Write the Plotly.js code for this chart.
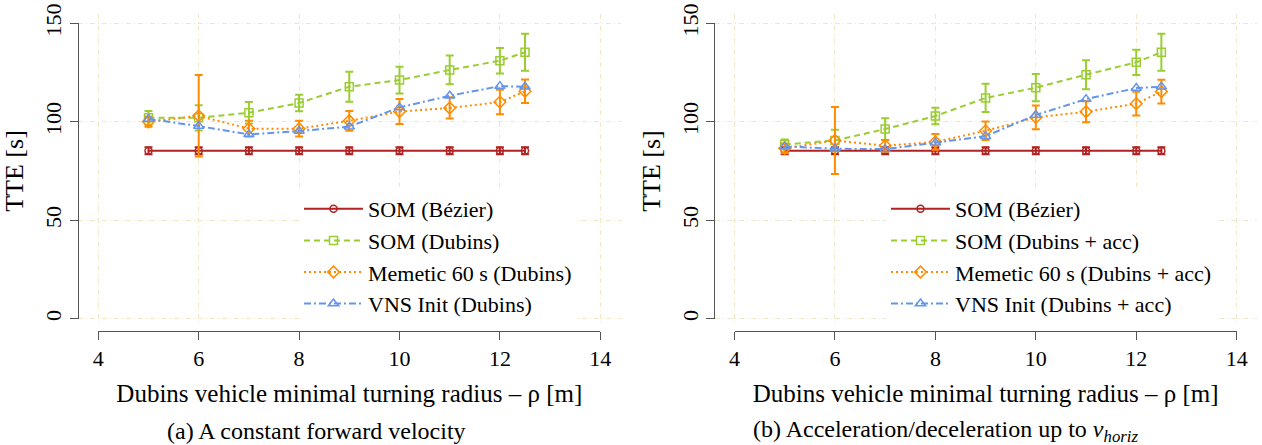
<!DOCTYPE html>
<html><head><meta charset="utf-8">
<script src="https://cdn.plot.ly/plotly-3.0.1.min.js"></script>
<style>html,body{margin:0;padding:0;background:#fff}#chart{width:1262px;height:445px}</style>
</head><body><div id="chart"></div>
<script>
// ---------- data ----------
const rho = [5, 6, 7, 8, 9, 10, 11, 12, 12.5];
const xTickVals = [4, 6, 8, 10, 12, 14];
const yTickVals = [0, 50, 100, 150];

// panel (a): constant forward velocity
const a_bezier      = [85.3, 85.3, 85.3, 85.3, 85.3, 85.3, 85.3, 85.3, 85.3];
const a_bezierErr   = [1.8, 1.8, 1.8, 1.8, 1.8, 1.8, 1.8, 1.8, 1.8];
const a_somDubins   = [102, 102, 104.6, 109.5, 117.8, 121.2, 126.3, 131, 135.3];
const a_somErr      = [3.5, 6.4, 5.5, 4.2, 7.6, 6.8, 7.3, 6.5, 9.4];
const a_memetic     = [100, 103, 96.5, 96.5, 100.5, 105.2, 107, 110, 115.5];
const a_memeticErr  = [2.5, 20.7, 4, 4, 5, 6.3, 5.4, 6.2, 6];
const a_vns         = [101.4, 97.8, 93.6, 95.3, 97.5, 107.3, 113.2, 118.1, 117.8];

// panel (b): acceleration / deceleration
const b_bezier      = [85.3, 85.3, 85.3, 85.3, 85.3, 85.3, 85.3, 85.3, 85.3];
const b_bezierErr   = [1.8, 1.8, 1.8, 1.8, 1.8, 1.8, 1.8, 1.8, 1.8];
const b_somDubins   = [88.5, 90.5, 96.3, 102.9, 112.1, 117.3, 123.9, 130.2, 135.3];
const b_somErr      = [2.5, 5.5, 5.5, 4.2, 7.2, 6.9, 7.4, 6.4, 9.4];
const b_memetic     = [86.5, 90.5, 87.8, 89.8, 95.4, 102.2, 105.1, 109.2, 115.3];
const b_memeticErr  = [2.5, 17, 3, 4, 4.7, 6, 5.3, 6, 6];
const b_vns         = [87.5, 86.3, 86.1, 89.3, 92.7, 103.4, 111.5, 117.1, 117.8];

const namesA = ['SOM (Bézier)', 'SOM (Dubins)', 'Memetic 60 s (Dubins)', 'VNS Init (Dubins)'];
const namesB = ['SOM (Bézier)', 'SOM (Dubins + acc)', 'Memetic 60 s (Dubins + acc)', 'VNS Init (Dubins + acc)'];
const xTitle = 'Dubins vehicle minimal turning radius – ρ [m]';
const yTitle = 'TTE [s]';
const captionA = '(a) A constant forward velocity';
const captionB = '(b) Acceleration/deceleration up to <i>v</i><sub><i>horiz</i></sub>';

// ---------- styling ----------
const W = 1262, H = 445;
const FONT = 'Liberation Serif, Times New Roman, serif';
const C_RED = '#b22222', C_GREEN = '#9acd32', C_ORANGE = '#ff8c00', C_BLUE = '#6495ed';
const GRID = '#efe7c9';
const AXC = '#555555';
const px = v => v / W;
const py = v => 1 - v / H;

function makeTraces(xa, ya, leg, names, bez, bezErr, som, somErr, mem, memErr, vns) {
  const base = {x: rho, xaxis: xa, yaxis: ya, legend: leg, mode: 'lines+markers', type: 'scatter', hoverinfo: 'skip'};
  return [
    Object.assign({}, base, {y: bez, name: names[0],
      line: {color: C_RED, width: 2, dash: 'solid'},
      marker: {symbol: 'circle-open', size: 7, color: C_RED, line: {width: 1.5, color: C_RED}},
      error_y: {type: 'data', array: bezErr, visible: true, color: C_RED, thickness: 2, width: 4}}),
    Object.assign({}, base, {y: som, name: names[1],
      line: {color: C_GREEN, width: 2, dash: '6px,4px'},
      marker: {symbol: 'square-open', size: 8, color: C_GREEN, line: {width: 1.5, color: C_GREEN}},
      error_y: {type: 'data', array: somErr, visible: true, color: C_GREEN, thickness: 2, width: 4}}),
    Object.assign({}, base, {y: mem, name: names[2],
      line: {color: C_ORANGE, width: 2, dash: '2px,3px'},
      marker: {symbol: 'diamond-open', size: 9, color: C_ORANGE, line: {width: 1.5, color: C_ORANGE}},
      error_y: {type: 'data', array: memErr, visible: true, color: C_ORANGE, thickness: 2, width: 4}}),
    Object.assign({}, base, {y: vns, name: names[3],
      line: {color: C_BLUE, width: 2, dash: '7px,3px,2px,3px'},
      marker: {symbol: 'triangle-up-open', size: 9, color: C_BLUE, line: {width: 1.5, color: C_BLUE}}})
  ];
}

const data = [].concat(
  makeTraces('x', 'y', 'legend', namesA, a_bezier, a_bezierErr, a_somDubins, a_somErr, a_memetic, a_memeticErr, a_vns),
  makeTraces('x3', 'y3', 'legend2', namesB, b_bezier, b_bezierErr, b_somDubins, b_somErr, b_memetic, b_memeticErr, b_vns),
  [{x: [], y: [], xaxis: 'x2', yaxis: 'y2', showlegend: false, hoverinfo: 'skip', type: 'scatter'},
   {x: [], y: [], xaxis: 'x4', yaxis: 'y4', showlegend: false, hoverinfo: 'skip', type: 'scatter'}]
);

// pixel geometry of the two panels
const panels = [
  {plotL: 78, plotR: 620.7, x4: 98.3, x14: 600.3, axisX: 77.7},
  {plotL: 715, plotR: 1257, x4: 734.5, x14: 1236.7, axisX: 714.3}
];
const plotTop = 14, plotBot = 325, y0px = 318.7, y150px = 23.3, xAxisY = 331;

function gridX(p, anchor) {
  const k = (p.x14 - p.x4) / 10;
  return {domain: [px(p.plotL), px(p.plotR)], anchor: anchor,
    range: [4 - (p.x4 - p.plotL) / k, 14 + (p.plotR - p.x14) / k],
    tickvals: xTickVals, showticklabels: false, ticks: '', showgrid: true,
    gridcolor: GRID, gridwidth: 1, griddash: '5px,3px,1px,3px', zeroline: false, showline: false, fixedrange: true};
}
function gridY(anchor) {
  const k = (y0px - y150px) / 150;
  return {domain: [py(plotBot), py(plotTop)], anchor: anchor,
    range: [-(plotBot - y0px) / k, 150 + (y150px - plotTop) / k],
    tickvals: yTickVals, showticklabels: false, ticks: '', showgrid: true,
    gridcolor: GRID, gridwidth: 1, griddash: '5px,3px,1px,3px', zeroline: false, showline: false, fixedrange: true};
}
function dispX(p) {
  return {domain: [px(p.x4), px(p.x14)], range: [4, 14], anchor: 'free', position: py(xAxisY),
    tickvals: xTickVals, ticks: 'outside', ticklen: 8, tickwidth: 1, tickcolor: AXC,
    showline: true, linecolor: AXC, linewidth: 1, showgrid: false, zeroline: false,
    tickfont: {family: FONT, size: 22, color: '#000'},
    title: {text: xTitle, font: {family: FONT, size: 25, color: '#000'}, standoff: 14}, fixedrange: true};
}
function dispY(p) {
  return {domain: [py(y0px), py(y150px)], range: [0, 150], anchor: 'free', position: px(p.axisX), side: 'left',
    tickvals: yTickVals, ticks: 'outside', ticklen: 8, tickwidth: 1, tickcolor: AXC, tickangle: -90,
    showline: true, linecolor: AXC, linewidth: 1, showgrid: false, zeroline: false,
    tickfont: {family: FONT, size: 22, color: '#000'},
    title: {text: yTitle, font: {family: FONT, size: 26, color: '#000'}, standoff: 8}, fixedrange: true};
}

const legendBase = {xanchor: 'left', yanchor: 'top', bgcolor: '#ffffff', borderwidth: 0,
  font: {family: FONT, size: 22, color: '#000'}, itemwidth: 59, tracegroupgap: 0, traceorder: 'normal'};

const layout = {
  width: W, height: H, margin: {l: 0, r: 0, t: 0, b: 0},
  paper_bgcolor: '#ffffff', plot_bgcolor: 'rgba(0,0,0,0)',
  showlegend: true, hovermode: false,
  xaxis: gridX(panels[0], 'y'), yaxis: gridY('x'),
  xaxis3: gridX(panels[1], 'y3'), yaxis3: gridY('x3'),
  xaxis2: dispX(panels[0]), yaxis2: dispY(panels[0]),
  xaxis4: dispX(panels[1]), yaxis4: dispY(panels[1]),
  legend: Object.assign({}, legendBase, {x: px(299), y: py(188)}),
  legend2: Object.assign({}, legendBase, {x: px(886), y: py(188)}),
  annotations: [
    {text: captionA, xref: 'paper', yref: 'paper', x: px(316), y: py(431), xanchor: 'center', yanchor: 'middle',
     showarrow: false, font: {family: FONT, size: 24, color: '#000'}},
    {text: captionB, xref: 'paper', yref: 'paper', x: px(945), y: py(431), xanchor: 'center', yanchor: 'middle',
     showarrow: false, font: {family: FONT, size: 24, color: '#000'}}
  ]
};

Plotly.newPlot('chart', data, layout, {staticPlot: true, displayModeBar: false});
</script>
</body></html>
